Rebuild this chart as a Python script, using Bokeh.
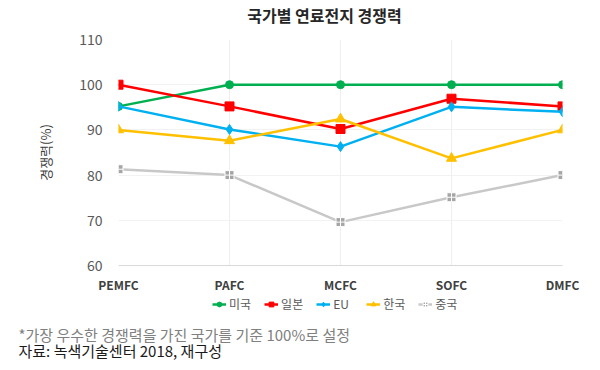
from bokeh.plotting import figure
from bokeh.layouts import column
from bokeh.models import (Range1d, FixedTicker, Legend, LegendItem, Label, ColumnDataSource)
from bokeh.embed import file_html
from bokeh.resources import INLINE

categories = ["PEMFC", "PAFC", "MCFC", "SOFC", "DMFC"]
series_names = ["미국", "일본", "EU", "한국", "중국"]
usa = [95.2, 100, 100, 100, 100]
japan = [100, 95.2, 90.2, 96.9, 95.2]
eu = [95.2, 90.1, 86.3, 95.1, 94.0]
korea = [90.0, 87.6, 92.4, 83.7, 90.0]
china = [81.3, 80.0, 69.6, 75.1, 80.0]
y_ticks = [60, 70, 80, 90, 100, 110]

title_text = "국가별 연료전지 경쟁력"
y_label = "경쟁력(%)"
note1 = "*가장 우수한 경쟁력을 가진 국가를 기준 100%로 설정"
note2 = "자료: 녹색기술센터 2018, 재구성"

FONT = "Noto Sans CJK KR"

colors = ["#00b050", "#ff0000", "#00b0f0", "#ffc000", "#c8c8c8"]
markers = ["circle", "square", "diamond", "triangle", "square_cross"]
sizes = [8, 9, 10, 10, 9]
data = [usa, japan, eu, korea, china]
xs = list(range(len(categories)))


def bare_strip(h):
    f = figure(width=600, height=h, output_backend="svg", toolbar_location=None,
               x_range=Range1d(-20, -19), y_range=Range1d(60, 110),
               min_border_left=0, min_border_right=0, min_border_top=0,
               min_border_bottom=0)
    f.axis.visible = False
    f.grid.visible = False
    f.outline_line_color = None
    return f


# ---- title strip ----
pt = bare_strip(28)
pt.add_layout(Label(x=324, y=14, x_units="screen", y_units="screen", text=title_text,
                    text_font=FONT, text_font_style="bold", text_font_size="16px",
                    text_color="#262626", text_align="center", text_baseline="middle"))

# ---- main chart ----
p = figure(width=600, height=267, output_backend="svg", toolbar_location=None,
           title=None,
           x_range=Range1d(0, len(categories) - 1), y_range=Range1d(60, 110),
           min_border_left=118, min_border_right=38, min_border_top=11,
           min_border_bottom=29)
p.outline_line_color = None

p.xaxis.ticker = FixedTicker(ticks=xs)
p.xaxis.major_label_overrides = {i: c for i, c in enumerate(categories)}
p.xaxis.major_label_text_font = FONT
p.xaxis.major_label_text_font_style = "bold"
p.xaxis.major_label_text_font_size = "12px"
p.xaxis.major_label_text_color = "#404040"
p.xaxis.axis_line_color = "#d9d9d9"
p.xaxis.major_tick_line_color = None
p.xaxis.minor_tick_line_color = None
p.xaxis.major_label_standoff = 4

p.yaxis.ticker = FixedTicker(ticks=y_ticks)
p.yaxis.major_label_text_font = FONT
p.yaxis.major_label_text_font_size = "14px"
p.yaxis.major_label_text_color = "#595959"
p.yaxis.axis_line_color = None
p.yaxis.major_tick_line_color = None
p.yaxis.minor_tick_line_color = None
p.yaxis.major_label_standoff = 10
p.yaxis.axis_label = y_label
p.yaxis.axis_label_text_font = FONT
p.yaxis.axis_label_text_font_style = "normal"
p.yaxis.axis_label_text_font_size = "13px"
p.yaxis.axis_label_text_color = "#404040"
p.yaxis.axis_label_standoff = 21

p.xgrid.grid_line_color = "#eeeeee"
p.ygrid.grid_line_color = "#f2f2f2"


def draw_series(fig, name, vals, col, mk, sz):
    src = ColumnDataSource(dict(x=xs, y=vals))
    r1 = fig.line("x", "y", source=src, line_color=col, line_width=2.5)
    if mk == "square_cross":
        r2 = fig.scatter("x", "y", source=src, marker=mk, size=sz,
                         fill_color="#a6a6a6", line_color="white", line_width=1)
    else:
        r2 = fig.scatter("x", "y", source=src, marker=mk, size=sz,
                         fill_color=col, line_color=col)
    return r1, r2


for args in zip(series_names, data, colors, markers, sizes):
    draw_series(p, *args)

# ---- legend + notes strip (same series, drawn outside its visible range) ----
p2 = bare_strip(75)

shift = -118
if hasattr(p2, "frame_align"):
    p2.frame_align = False
    p.frame_align = False
    pt.frame_align = False
    shift = 0

items = []
for args in zip(series_names, data, colors, markers, sizes):
    r1, r2 = draw_series(p2, *args)
    items.append(LegendItem(label=args[0], renderers=[r1, r2]))

legend = Legend(items=items, orientation="horizontal", location=(212 + shift, 58),
                label_text_font=FONT, label_text_font_size="12px",
                label_text_color="#595959", glyph_width=14, glyph_height=12,
                label_height=14, spacing=13, label_standoff=3, padding=0, margin=0,
                border_line_color=None, background_fill_alpha=0)
p2.add_layout(legend, "center")

p2.add_layout(Label(x=18 + shift, y=36, x_units="screen", y_units="screen", text=note1,
                    text_font=FONT, text_font_size="15px", text_color="#808080",
                    text_baseline="middle"))
p2.add_layout(Label(x=18 + shift, y=20, x_units="screen", y_units="screen", text=note2,
                    text_font=FONT, text_font_size="15px", text_color="#1a1a1a",
                    text_baseline="middle"))

layout = column(pt, p, p2, spacing=0)
open("out.html", "w").write(file_html(layout, INLINE))
